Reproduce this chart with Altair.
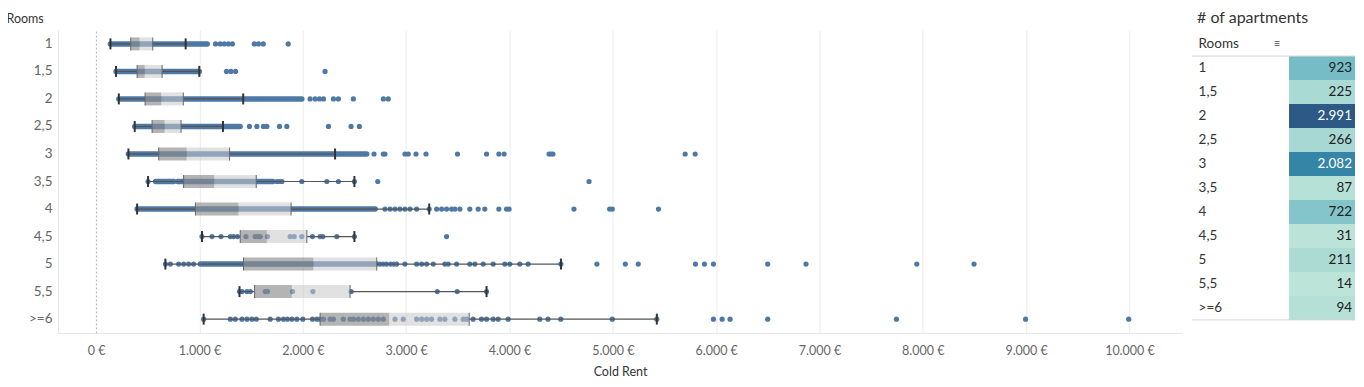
import altair as alt
import pandas as pd

rooms = ["1", "1,5", "2", "2,5", "3", "3,5", "4", "4,5", "5", "5,5", ">=6"]

# box plot statistics (Cold Rent, EUR)
whisker_low = [138, 192, 219, 373, 312, 502, 396, 1024, 670, 1387, 1040]
q1 = [334, 396, 473, 541, 605, 846, 960, 1394, 1426, 1533, 2167]
median = [421, 470, 631, 663, 876, 1143, 1378, 1652, 2103, 1894, 2837]
q3 = [547, 638, 843, 821, 1291, 1549, 1886, 2039, 2715, 2457, 3610]
whisker_high = [866, 998, 1423, 1227, 2312, 2499, 3223, 2499, 4498, 3778, 5426]

# number of apartments per room count
apartments = [923, 225, 2991, 266, 2082, 87, 722, 31, 211, 14, 94]

# ranges where the dots overlap into a continuous band
dense_room = ["1", "1,5", "2", "2,5", "3", "3,5", "3,5", "3,5", "3,5", "4", "5"]
dense_start = [138, 192, 219, 373, 312, 575, 789, 846, 1560, 396, 1008]
dense_end = [1075, 998, 1990, 1393, 2618, 750, 831, 1549, 1710, 2700, 2715]

# individually visible apartments
pts_1 = [1155, 1200, 1240, 1280, 1318, 1530, 1570, 1617, 1858]
pts_1_5 = [1261, 1304, 1349, 2215]
pts_2 = [2070, 2119, 2161, 2200, 2296, 2344, 2489, 2779, 2827]
pts_2_5 = [1483, 1555, 1619, 1652, 1774, 1845, 2248, 2467, 2547]
pts_3 = [2689, 2779, 2795, 2988, 3020, 3095, 3192, 3497, 3778, 3897, 3948,
         4383, 4402, 4421, 5700, 5797]
pts_3_5 = [502, 1749, 1775, 1797, 1990, 2232, 2344, 2499, 2725, 4770]
pts_4 = [2795, 2844, 2892, 2940, 2988, 3037, 3101, 3223, 3295, 3343, 3391,
         3440, 3472, 3520, 3616, 3697, 3761, 3897, 3971, 3996, 4624, 4969,
         4995, 5442]
pts_4_5 = [1024, 1121, 1208, 1298, 1330, 1368, 1449, 1539, 1561, 1588, 1658,
           1877, 1916, 1990, 2093, 2167, 2193, 2329, 2499, 3391]
pts_5 = [670, 718, 798, 847, 895, 943, 2747, 2780, 2810, 2850, 2880, 2908,
         2988, 3101, 3150, 3198, 3262, 3375, 3407, 3488, 3616, 3665, 3745,
         3842, 3955, 4003, 4100, 4180, 4498, 4846, 5121, 5246, 5800, 5887,
         5974, 6499, 6870, 7942, 8496]
pts_5_5 = [1387, 1411, 1459, 1491, 1636, 1658, 1900, 2097, 2467, 3301, 3494,
           3778]
pts_6 = [1040, 1298, 1346, 1411, 1459, 1507, 1549, 1684, 1764, 1813, 1851,
         1894, 1942, 2000, 2093, 2135, 2167, 2200, 2264, 2296, 2392, 2457,
         2490, 2537, 2586, 2634, 2682, 2731, 2779, 2892, 2972, 3101, 3150,
         3198, 3246, 3327, 3375, 3472, 3552, 3585, 3648, 3729, 3778, 3842,
         3890, 3987, 4293, 4373, 4496, 4995, 5426, 5974, 6058, 6135, 6499,
         7745, 8995, 9993]

tick_values = [0, 1000, 2000, 3000, 4000, 5000, 6000, 7000, 8000, 9000, 10000]

# ---------------------------------------------------------------- tables
box_df = pd.DataFrame({"room": rooms, "low": whisker_low, "q1": q1,
                       "med": median, "q3": q3, "high": whisker_high})
dense_df = pd.DataFrame({"room": dense_room, "start": dense_start,
                         "end": dense_end})
pt_lists = [pts_1, pts_1_5, pts_2, pts_2_5, pts_3, pts_3_5, pts_4, pts_4_5,
            pts_5, pts_5_5, pts_6]
pts_df = pd.DataFrame([{"room": r, "rent": v}
                       for r, lst in zip(rooms, pt_lists) for v in lst])
count_df = pd.DataFrame({"room": rooms, "count": apartments,
                         "col": ["# of apartments"] * len(rooms)})

FONT = "Lato"
BLUE = "#4e79a7"
TAB_W = 66


def xenc(field):
    return alt.X(
        field,
        type="quantitative",
        title="Cold Rent",
        scale=alt.Scale(domain=[-370, 10510], nice=False, zero=False),
        axis=alt.Axis(
            values=tick_values,
            labelExpr="replace(format(datum.value, ','), ',', '.') + ' €'",
            ticks=False,
            grid=True,
            gridColor={"condition": {"test": "datum.value === 0",
                                     "value": "#b5b5b5"},
                       "value": "#ececec"},
            gridDash={"condition": {"test": "datum.value === 0",
                                    "value": [2, 2]},
                      "value": []},
            domainColor="#e6e6e6",
            labelColor="#666666",
            labelFontSize=12.5,
            labelPadding=12,
            titleColor="#333333",
            titleFontSize=12.5,
            titleFontWeight="normal",
            titlePadding=8,
        ),
    )


yenc = alt.Y(
    "room:N",
    sort=rooms,
    scale=alt.Scale(domain=rooms, paddingInner=0, paddingOuter=0),
    axis=alt.Axis(
        title="Rooms",
        titleAngle=0,
        titleAlign="left",
        titleBaseline="middle",
        titleX=-52,
        titleY=-12,
        titleFontWeight="normal",
        titleFontSize=12.5,
        titleColor="#333333",
        labelColor="#666666",
        labelFontSize=13.5,
        labelPadding=6,
        ticks=False,
        grid=False,
        domainColor="#e6e6e6",
    ),
)

dense = alt.Chart(dense_df).mark_rule(
    strokeWidth=5.5, strokeCap="round", color=BLUE
).encode(x=xenc("start"), x2="end:Q", y=yenc)

points = alt.Chart(pts_df).mark_circle(size=27, color=BLUE, opacity=1).encode(
    x=xenc("rent"), y=yenc
)

box = alt.Chart(box_df)
whisk_lo = box.mark_rule(color="#555555", strokeWidth=1.2).encode(
    x=xenc("low"), x2="q1:Q", y=yenc)
whisk_hi = box.mark_rule(color="#555555", strokeWidth=1.2).encode(
    x=xenc("q3"), x2="high:Q", y=yenc)
box_dark = box.mark_bar(size=13, color="#8c8c8c", opacity=0.65).encode(
    x=xenc("q1"), x2="med:Q", y=yenc)
box_light = box.mark_bar(size=13, color="#c8c8c8", opacity=0.55).encode(
    x=xenc("med"), x2="q3:Q", y=yenc)
box_edges = box.transform_fold(["q1", "q3"], as_=["k", "v"]).mark_tick(
    thickness=1, size=13, color="#666666", opacity=1
).encode(x=xenc("v"), y=yenc)
caps = box.transform_fold(["low", "high"], as_=["k", "v"]).mark_tick(
    thickness=2, size=11, color="#333333", opacity=1
).encode(x=xenc("v"), y=yenc)

left = alt.layer(
    dense, points, whisk_lo, whisk_hi, box_dark, box_light, box_edges, caps
).properties(width=1125, height=303)

# ---------------------------------------------------------------- table
ydomain = ["Rooms"] + rooms
ytab = alt.Y(
    "room:N",
    sort=ydomain,
    scale=alt.Scale(domain=ydomain, paddingInner=0, paddingOuter=1 / 24,
                    align=1),
    axis=alt.Axis(
        title=None,
        labelAlign="left",
        labelPadding=91,
        labelColor="#333333",
        labelFontSize=13.5,
        ticks=False,
        domain=False,
        grid=False,
    ),
)
xtab = alt.X("col:N", axis=None,
             scale=alt.Scale(paddingInner=0, paddingOuter=0))

tab = alt.Chart(count_df)
cells = tab.mark_rect().encode(
    x=xtab,
    y=ytab,
    color=alt.Color("count:Q",
                    scale=alt.Scale(scheme="tealblues", domain=[14, 2991]),
                    legend=None),
)
texts = tab.transform_calculate(
    label="replace(format(datum.count, ','), ',', '.')"
).mark_text(align="right", baseline="middle", dx=-3, fontSize=13.5).encode(
    x=alt.X("col:N", axis=None, bandPosition=1,
            scale=alt.Scale(paddingInner=0, paddingOuter=0)),
    y=ytab,
    text="label:N",
    color=alt.condition("datum.count > 1500", alt.value("white"),
                        alt.value("#222222")),
)
line_top = alt.Chart(pd.DataFrame({"room": ["1"]})).mark_rule(
    color="#d4d4d4", strokeWidth=1
).encode(y=alt.Y("room:N", bandPosition=0), x=alt.value(-97),
         x2=alt.value(TAB_W))
line_bot = alt.Chart(pd.DataFrame({"room": [">=6"]})).mark_rule(
    color="#d4d4d4", strokeWidth=1
).encode(y=alt.Y("room:N", bandPosition=1), x=alt.value(-97),
         x2=alt.value(TAB_W))
icon = alt.Chart(pd.DataFrame({"room": ["Rooms"], "t": ["≡"]})).mark_text(
    fontSize=11, color="#444444", align="center", baseline="middle"
).encode(y="room:N", x=alt.value(-12), text="t:N")

right = alt.layer(cells, texts, line_top, line_bot, icon).properties(
    width=TAB_W,
    height=290,
    title=alt.TitleParams("# of apartments", anchor="start", frame="group",
                          dx=-92, offset=4, fontSize=16,
                          fontWeight="normal", color="#333333"),
)

chart = alt.hconcat(left, right, spacing=107, bounds="flush").properties(
    padding={"left": -2, "top": 2, "right": 0, "bottom": 0}
).configure(font=FONT).configure_view(strokeWidth=0)

chart.save("out.html", embed_options={"renderer": "svg", "actions": False})
